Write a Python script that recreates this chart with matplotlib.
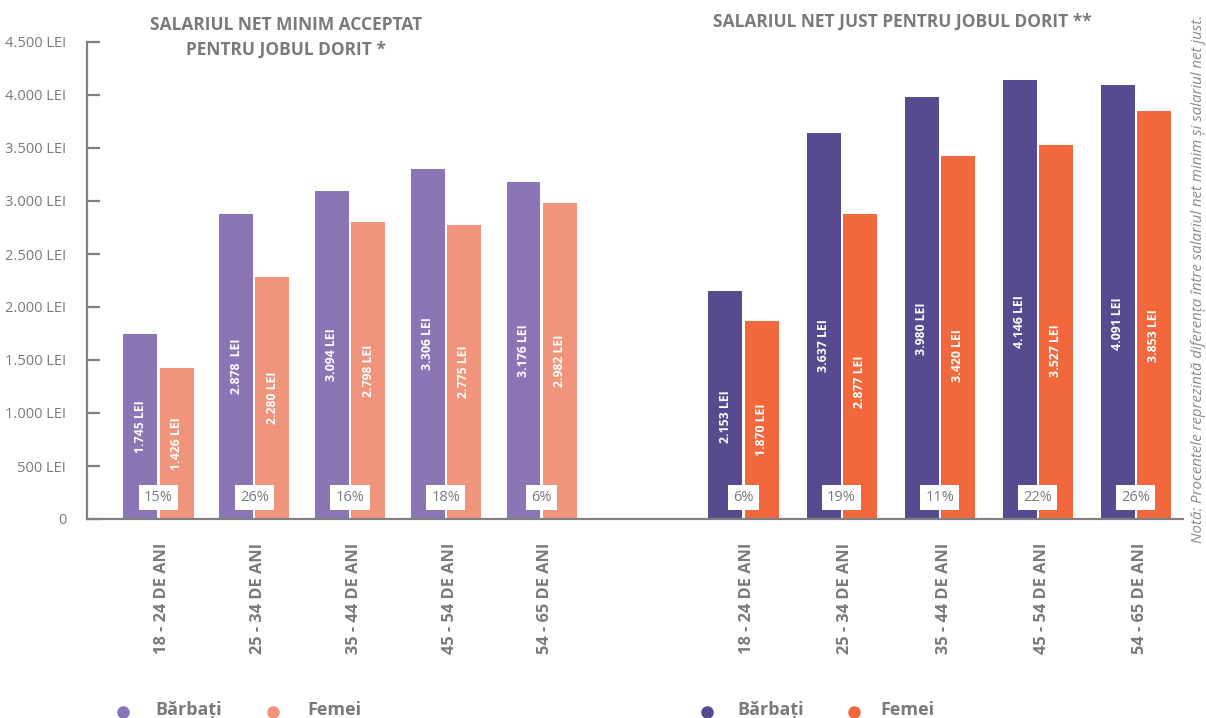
import matplotlib.pyplot as plt
from matplotlib.lines import Line2D
import numpy as np

plt.rcParams['font.family'] = ['Open Sans', 'DejaVu Sans']

grupe = ['18 - 24 DE ANI', '25 - 34 DE ANI', '35 - 44 DE ANI', '45 - 54 DE ANI', '54 - 65 DE ANI']

# salariul net minim acceptat
minim_barbati = [1745, 2878, 3094, 3306, 3176]
minim_femei = [1426, 2280, 2798, 2775, 2982]
minim_procente = ['15%', '26%', '16%', '18%', '6%']
minim_etichete_b = ['1.745 LEI', '2.878  LEI', '3.094 LEI', '3.306 LEI', '3.176 LEI']
minim_etichete_f = ['1.426 LEI', '2.280 LEI', '2.798 LEI', '2.775 LEI', '2.982 LEI']

# salariul net just
just_barbati = [2153, 3637, 3980, 4146, 4091]
just_femei = [1870, 2877, 3420, 3527, 3853]
just_procente = ['6%', '19%', '11%', '22%', '26%']

y_ticks = [0, 500, 1000, 1500, 2000, 2500, 3000, 3500, 4000, 4500]

GRI = '#7a7a7a'
col_min = ('#8a75b5', '#f0957c')
col_just = ('#574a8e', '#f1683d')


def lei(v):
    return '{:,}'.format(v).replace(',', '.') + ' LEI'


fig = plt.figure(figsize=(12.06, 7.18), dpi=100)
ax = fig.add_axes([87 / 1206, 1 - 519 / 718, (1183 - 87) / 1206, (519 - 42) / 718])

w = 0.35
off = 0.186
x_min = np.arange(5) * 0.987
x_just = 6.03 + np.arange(5) * 1.011

ax.bar(x_min - off, minim_barbati, w, color=col_min[0])
ax.bar(x_min + off, minim_femei, w, color=col_min[1])
ax.bar(x_just - off, just_barbati, w, color=col_just[0])
ax.bar(x_just + off, just_femei, w, color=col_just[1])

txt = dict(rotation=90, ha='center', va='center', color='white', fontsize=8.8, fontweight='bold')
for i in range(5):
    ax.text(x_min[i] - off, minim_barbati[i] * 0.5, minim_etichete_b[i], **txt)
    ax.text(x_min[i] + off, minim_femei[i] * 0.5, minim_etichete_f[i], **txt)
    ax.text(x_just[i] - off, just_barbati[i] * 0.45, lei(just_barbati[i]), **txt)
    ax.text(x_just[i] + off, just_femei[i] * 0.45, lei(just_femei[i]), **txt)

box = dict(boxstyle='square,pad=0.35', fc='white', ec='none')
for i in range(5):
    ax.text(x_min[i], 200, minim_procente[i], ha='center', va='center', fontsize=10.5,
            color=GRI, bbox=box)
    ax.text(x_just[i], 200, just_procente[i], ha='center', va='center', fontsize=10.5,
            color=GRI, bbox=box)

ax.set_xlim(-0.737, 10.56)
ax.set_ylim(0, 4500)
ax.set_yticks(y_ticks)
ax.set_yticklabels(['0'] + [lei(v) for v in y_ticks[1:]])
ax.tick_params(axis='y', direction='in', length=9, width=1.6, colors='#808080',
               labelcolor=GRI, labelsize=10.5, pad=15)
ax.set_xticks(list(x_min + 0.04) + list(x_just + 0.04))
ax.set_xticklabels(grupe + grupe, rotation=90, fontsize=11.8, fontweight='bold', color=GRI)
ax.tick_params(axis='x', length=0, pad=17)
for s in ['top', 'right']:
    ax.spines[s].set_visible(False)
for s in ['left', 'bottom']:
    ax.spines[s].set_color('#808080')
    ax.spines[s].set_linewidth(1.6)

fig.text(286 / 1206, 1 - 37 / 718, 'SALARIUL NET MINIM ACCEPTAT\nPENTRU JOBUL DORIT *',
         ha='center', va='center', fontsize=12.5, fontweight='bold', color=GRI, linespacing=1.5)
fig.text(902 / 1206, 1 - 22 / 718, 'SALARIUL NET JUST PENTRU JOBUL DORIT **',
         ha='center', va='center', fontsize=12.5, fontweight='bold', color=GRI)

fig.text(1198 / 1206, 1 - 279 / 718,
         'Notă: Procentele reprezintă diferența între salariul net minim și salariul net just.',
         rotation=90, ha='center', va='center', fontsize=10.8, style='italic', color='#8a8a8a')

legenda = [(123, 155, col_min[0], 'Bărbați'), (273, 307, col_min[1], 'Femei'),
           (707, 737, col_just[0], 'Bărbați'), (854, 880, col_just[1], 'Femei')]
for xd, xt, c, t in legenda:
    fig.add_artist(Line2D([xd / 1206], [1 - 712 / 718], marker='o', markersize=8, color=c,
                          linestyle='none', transform=fig.transFigure))
    fig.text(xt / 1206, 1 - 710 / 718, t, ha='left', va='center', fontsize=13,
             fontweight='bold', color=GRI)

fig.savefig('out.png', dpi=100)
